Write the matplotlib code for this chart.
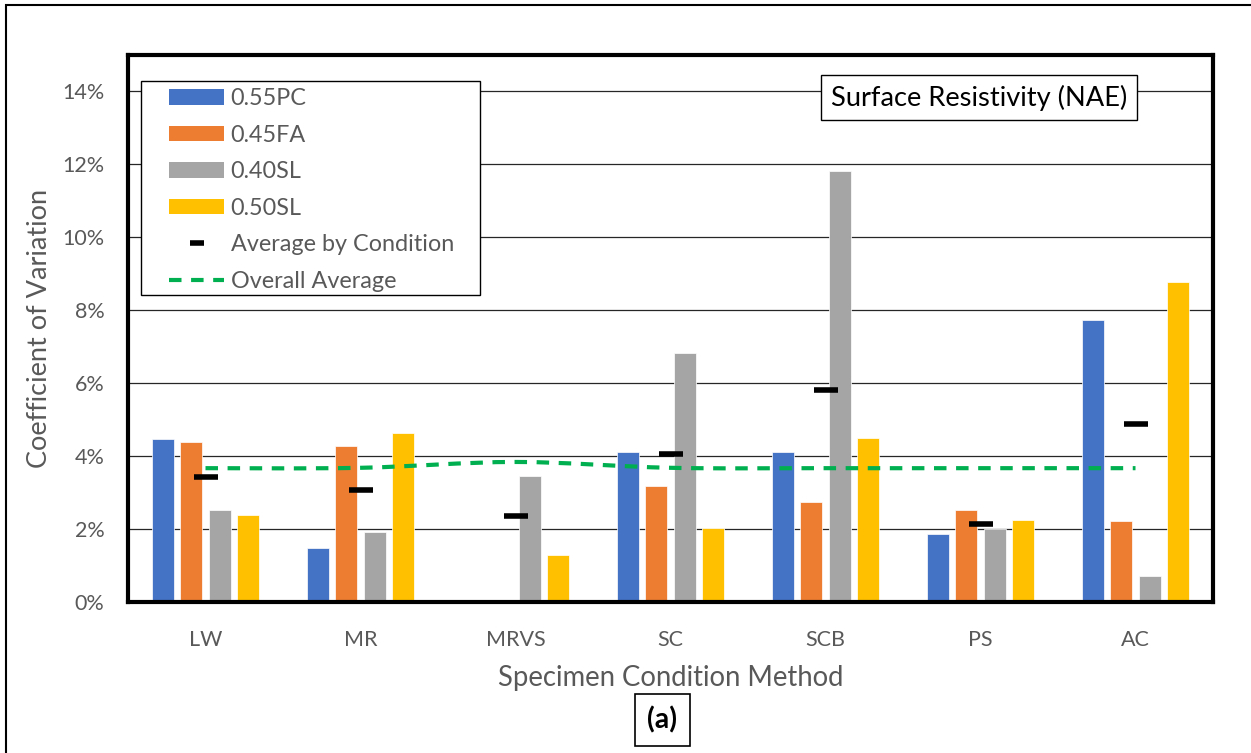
import numpy as np
import matplotlib
matplotlib.use('Agg')
import matplotlib.pyplot as plt
from matplotlib.lines import Line2D
from matplotlib.patches import Patch, Rectangle, PathPatch
from matplotlib.path import Path
from matplotlib.ticker import PercentFormatter, MultipleLocator

plt.rcParams['font.family'] = ['Lato', 'DejaVu Sans']

# data (coefficient of variation, %)
conditions = ['LW', 'MR', 'MRVS', 'SC', 'SCB', 'PS', 'AC']
mixes = ['0.55PC', '0.45FA', '0.40SL', '0.50SL']
cv_055pc = [4.46, 1.47, np.nan, 4.10, 4.10, 1.86, 7.72]
cv_045fa = [4.38, 4.29, np.nan, 3.18, 2.74, 2.52, 2.22]
cv_040sl = [2.53, 1.91, 3.45, 6.84, 11.82, 1.99, 0.71]
cv_050sl = [2.39, 4.64, 1.28, 2.03, 4.51, 2.25, 8.78]
avg_by_condition = [3.44, 3.08, 2.37, 4.05, 5.82, 2.15, 4.87]
overall_avg = [3.67, 3.68, 3.84, 3.68, 3.67, 3.67, 3.67]

colors = ['#4472C4', '#ED7D31', '#A5A5A5', '#FFC000']
txt_gray = '#595959'

W, H = 1251, 753
fig = plt.figure(figsize=(W / 100, H / 100), dpi=100)
ax = fig.add_axes([128 / W, 1 - 602 / H, (1213 - 128) / W, (602 - 55) / H])

x = np.arange(len(conditions))
pitch = 0.181
width = 0.142
series = [cv_055pc, cv_045fa, cv_040sl, cv_050sl]
for i, (vals, col) in enumerate(zip(series, colors)):
    ax.bar(x + (i - 1.5) * pitch, vals, width, color=col,
           edgecolor='white', linewidth=0.5, zorder=2)

# average by condition markers
ax.plot(x, avg_by_condition, ls='none', marker='_', color='black',
        markersize=17, markeredgewidth=4, zorder=4)

# overall average as smoothed dashed curve (bezier through the points)
pts = np.column_stack([x, overall_avg])
verts = [tuple(pts[0])]
codes = [Path.MOVETO]
n = len(pts)
for k in range(n - 1):
    p0 = pts[max(k - 1, 0)]
    p1 = pts[k]
    p2 = pts[k + 1]
    p3 = pts[min(k + 2, n - 1)]
    c1 = p1 + (p2 - p0) / 6
    c2 = p2 - (p3 - p1) / 6
    verts += [tuple(c1), tuple(c2), tuple(p2)]
    codes += [Path.CURVE4] * 3
ax.add_patch(PathPatch(Path(verts, codes), fill=False, edgecolor='#00B050',
                       linewidth=3, linestyle=(0, (3.0, 2.3)), zorder=3))

ax.set_xlim(-0.5, len(conditions) - 0.5)
ax.set_ylim(0, 15)
ax.yaxis.set_major_locator(MultipleLocator(2))
ax.yaxis.set_major_formatter(PercentFormatter(decimals=0))
ax.set_xticks(x)
ax.set_xticklabels(conditions)
ax.tick_params(axis='both', length=0, labelsize=15.5, labelcolor=txt_gray)
ax.tick_params(axis='y', pad=17)
ax.tick_params(axis='x', pad=20)
ax.yaxis.grid(True, color='#262626', linewidth=0.9)
ax.set_axisbelow(True)
for sp in ax.spines.values():
    sp.set_linewidth(3)
    sp.set_color('black')

ax.set_xlabel('Specimen Condition Method', fontsize=19.8, color=txt_gray, labelpad=11)
ax.set_ylabel('Coefficient of Variation', fontsize=19.5, color=txt_gray, labelpad=7)

# legend
handles = [Patch(facecolor=c, edgecolor='none') for c in colors]
handles.append(Line2D([], [], ls='none', marker='_', color='black',
                      markersize=10.5, markeredgewidth=4))
handles.append(Line2D([], [], color='#00B050', lw=3, ls=(0, (3.0, 2.3))))
labels = mixes + ['Average by Condition', 'Overall Average']
leg = ax.legend(handles, labels, loc='upper left',
                bbox_to_anchor=(169 / W, 1 - 88 / H), bbox_transform=fig.transFigure,
                frameon=False, borderpad=0, borderaxespad=0, fontsize=16.8,
                handlelength=2.36, handleheight=0.64, handletextpad=0.28,
                labelspacing=0.665)
for t in leg.get_texts():
    t.set_color(txt_gray)
leg.set_zorder(6)
ax.add_patch(Rectangle((141 / W, 1 - 295 / H), (480 - 141) / W, (295 - 81) / H,
                       transform=fig.transFigure, facecolor='white',
                       edgecolor='black', linewidth=1, zorder=5, clip_on=False))

# boxes with titles
fig.text(979 / W, 1 - 97.5 / H, 'Surface Resistivity (NAE)', ha='center', va='center',
         fontsize=19.6, color='black',
         bbox=dict(boxstyle='square,pad=0.36', facecolor='white', edgecolor='black', linewidth=1))
fig.text(662.5 / W, 1 - 720 / H, '(a)', ha='center', va='center', fontsize=20.5,
         fontweight='bold', color='black',
         bbox=dict(boxstyle='square,pad=0.45', facecolor='white', edgecolor='black', linewidth=1.2))

# outer border (left and top visible)
fig.patches.append(Rectangle((6 / W, -0.1), 1.2, 1 - 5 / H + 0.1, transform=fig.transFigure,
                             fill=False, edgecolor='black', linewidth=1.5))

fig.savefig('out.png', dpi=100)
